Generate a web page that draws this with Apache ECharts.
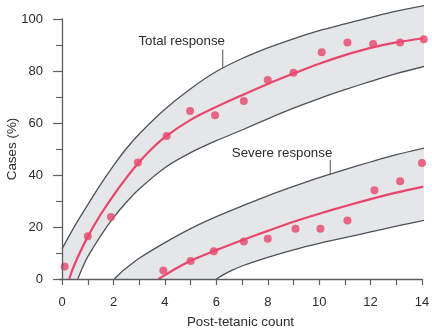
<!DOCTYPE html>
<html>
<head>
<meta charset="utf-8">
<title>Response vs post-tetanic count</title>
<script src="https://cdn.jsdelivr.net/npm/echarts@6/dist/echarts.min.js"></script>
<style>
  html, body { margin: 0; padding: 0; background: #ffffff; }
  #chart { width: 432px; height: 333px; }
</style>
</head>
<body>
<div id="chart"></div>
<script>
// Axis ticks
const xLabelTicks = [0, 2, 4, 6, 8, 10, 12, 14];
const xAllTicks = [0, 1, 2, 3, 4, 5, 6, 7, 8, 9, 10, 11, 12, 13, 14];

// Observed cases, total response (x = post-tetanic count, y = % of cases)
const totalDotsX = [0.1, 1.0, 1.9, 2.95, 4.07, 4.98, 5.95, 7.07, 8.0, 9.0, 10.1, 11.1, 12.1, 13.15, 14.07];
const totalDotsY = [4.8, 16.4, 23.8, 44.8, 55, 64.6, 63, 68.5, 76.5, 79.3, 87.2, 91, 90.4, 91, 92.2];

// Observed cases, severe response
const severeDotsX = [3.94, 5.0, 5.9, 7.07, 8.0, 9.08, 10.05, 11.1, 12.15, 13.15, 14.0];
const severeDotsY = [3.3, 6.9, 10.7, 14.4, 15.5, 19.3, 19.3, 22.5, 34.1, 37.6, 44.6];

// Fitted curve and confidence band, total response
const totalFit = [[0.28, 0], [0.4, 3.5], [0.6, 8.2], [1, 16.3], [1.5, 24.8], [2, 32.2], [2.5, 38.9], [3, 45], [3.5, 50.2], [4, 54.6], [5, 61.2], [6, 66.2], [7, 70.7], [8, 75], [9, 79], [10, 82.8], [11, 86.1], [12, 88.9], [13, 91], [14.05, 92.6]];
const totalUpper = [[0, 11.6], [0.5, 20.5], [1, 28.6], [1.5, 36.4], [2, 43.6], [2.5, 50.2], [3, 55.8], [4, 65.3], [5, 73.2], [6, 79.8], [7, 84.8], [8, 88.9], [9, 92.4], [10, 95.5], [11, 98.1], [12, 100.6], [13, 103], [14.1, 105.2]];
const totalLower = [[0.61, 0], [0.8, 4.5], [1, 8.6], [1.5, 16.6], [2, 23.6], [2.5, 29.5], [3, 34.6], [4, 42.8], [5, 48.6], [6, 53.2], [7, 57.3], [8, 61.6], [9, 65.7], [10, 69.4], [11, 72.8], [12, 76], [13, 79], [14.1, 81.8]];

// Fitted curve and confidence band, severe response
const severeFit = [[3.75, 0], [4, 1.5], [4.5, 4.4], [5, 7], [6, 11.1], [7, 14.9], [8, 18.5], [9, 22], [10, 25.1], [11, 28], [12, 30.7], [13, 33.2], [14.05, 35.5]];
const severeUpper = [[2.03, 0], [2.3, 2.6], [2.6, 5], [3, 8], [4, 14], [5, 19.4], [6, 24], [7, 28.1], [8, 32], [9, 35.6], [10, 39], [11, 42.1], [12, 45], [13, 47.8], [14.1, 50.4]];
const severeLower = [[6.0, 0], [6.3, 1.8], [6.6, 3.3], [7, 5], [8, 8.3], [9, 11.2], [10, 13.7], [11, 15.9], [12, 18.1], [13, 20.3], [14.1, 22.6]];

// Curve annotations
const annotationTexts = ['Total response', 'Severe response'];

const FONT = '"Liberation Sans", Arial, Helvetica, sans-serif';
const TEXT = '#2b2b2b';
const AXIS = '#5b5e63';
const EDGE = '#4d5258';
const BAND = '#e5e6e8';
const PINK = '#e8466c';

function zip(xs, ys) { return xs.map((x, i) => [x, ys[i]]); }

// A band boundary drawn as a line; the area below it is filled so that
// an upper boundary paints the band and a lower boundary clears beneath it.
function boundary(data, fill) {
  return {
    type: 'line', data, smooth: 0.3, symbol: 'none',
    clip: false, silent: true, z: 1,
    lineStyle: { color: EDGE, width: 1.3 },
    areaStyle: { color: fill, opacity: 1 }
  };
}

function fitLine(data) {
  return {
    type: 'line', data, smooth: 0.3, symbol: 'none',
    clip: false, silent: true, z: 3,
    lineStyle: { color: PINK, width: 2.2 }
  };
}

function dots(data) {
  return {
    type: 'scatter', data, symbol: 'circle', symbolSize: 8,
    clip: false, silent: true, z: 4,
    itemStyle: { color: PINK, borderWidth: 0 }
  };
}

// Placement of each annotation in data units: text anchor and leader line
const annotationLayout = [
  { tx: 2.97, ty: 91.3, lx: 6.25, ly0: 88.3, ly1: 81.2 },
  { tx: 6.6, ty: 48.5, lx: 10.43, ly0: 45.8, ly1: 40.1 }
];

const chart = echarts.init(document.getElementById('chart'), null, { renderer: 'canvas' });

chart.setOption({
  animation: false,
  backgroundColor: '#ffffff',
  grid: { left: 59, right: 10, top: 19, bottom: 54, containLabel: false, outerBoundsMode: 'none' },
  xAxis: {
    type: 'value', min: -0.12, max: 14, z: 6,
    name: 'Post-tetanic count', nameLocation: 'middle', nameGap: 37, nameMoveOverlap: false,
    nameTextStyle: { fontFamily: FONT, fontSize: 13.4, color: TEXT },
    axisLine: { show: true, lineStyle: { color: AXIS, width: 1.3 } },
    axisTick: { show: true, customValues: xAllTicks, length: 6, lineStyle: { color: AXIS, width: 1.2 } },
    axisLabel: { customValues: xLabelTicks, margin: 17, fontFamily: FONT, fontSize: 13, color: TEXT },
    splitLine: { show: false }
  },
  yAxis: {
    type: 'value', min: 0, max: 100, interval: 20, z: 6,
    name: 'Cases (%)', nameLocation: 'middle', nameGap: 40, nameRotate: 90, nameMoveOverlap: false,
    nameTextStyle: { fontFamily: FONT, fontSize: 13.4, color: TEXT },
    axisLine: { show: true, lineStyle: { color: AXIS, width: 1.3 } },
    axisTick: { show: true, length: 9, lineStyle: { color: AXIS, width: 1.2 } },
    minorTick: { show: true, splitNumber: 2, length: 6, lineStyle: { color: AXIS, width: 1.2 } },
    axisLabel: { margin: 16, fontFamily: FONT, fontSize: 13, color: TEXT },
    splitLine: { show: false },
    minorSplitLine: { show: false }
  },
  series: [
    boundary(totalUpper, BAND),
    boundary(totalLower, '#ffffff'),
    boundary(severeUpper, BAND),
    boundary(severeLower, '#ffffff'),
    fitLine(totalFit),
    fitLine(severeFit),
    dots(zip(totalDotsX, totalDotsY)),
    dots(zip(severeDotsX, severeDotsY)),
    {
      type: 'custom', coordinateSystem: 'cartesian2d', clip: false, silent: true, z: 5,
      data: annotationTexts.map((t, i) => [annotationLayout[i].tx, annotationLayout[i].ty]),
      renderItem: function (params, api) {
        const a = annotationLayout[params.dataIndex];
        const p = api.coord([a.tx, a.ty]);
        const l0 = api.coord([a.lx, a.ly0]);
        const l1 = api.coord([a.lx, a.ly1]);
        return {
          type: 'group',
          children: [
            {
              type: 'text',
              style: {
                text: annotationTexts[params.dataIndex], x: p[0], y: p[1],
                align: 'left', verticalAlign: 'middle',
                fill: TEXT, font: '13.3px ' + FONT
              }
            },
            {
              type: 'line',
              shape: { x1: l0[0], y1: l0[1], x2: l1[0], y2: l1[1] },
              style: { stroke: EDGE, lineWidth: 1 }
            }
          ]
        };
      }
    }
  ]
});
</script>
</body>
</html>
